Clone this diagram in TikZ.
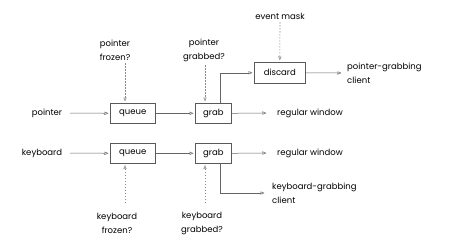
\documentclass[tikz,border=0pt]{standalone}
\usepackage{fontspec}
\setmainfont{Poppins}
\usetikzlibrary{arrows.meta}
\begin{document}
\begin{tikzpicture}[x=1pt,y=-1pt,
  font=\fontsize{8.5}{14}\selectfont,
  box/.style={draw=black!65,line width=0.6pt,minimum width=0pt,inner sep=0pt,anchor=north west},
  lab/.style={inner sep=0pt,align=center,text=black},
  conn/.style={draw=black!60,line width=0.5pt,-{Triangle[open,length=4pt,width=3.2pt]},shorten >=1.5pt},
  dconn/.style={draw=black!45,line width=0.6pt,dash pattern=on 1.5pt off 1.5pt,-{Triangle[open,length=4pt,width=3.2pt]},shorten >=1.5pt}]
\useasboundingbox (0,0) rectangle (450,244);
% boxes
\node[box,minimum width=45pt,minimum height=20pt] (q1) at (110,103) {queue};
\node[box,minimum width=36pt,minimum height=20pt] (g1) at (195,103) {grab};
\node[box,minimum width=51pt,minimum height=21pt] (d1) at (254,62) {discard};
\node[box,minimum width=45pt,minimum height=20pt] (q2) at (110,143) {queue};
\node[box,minimum width=36pt,minimum height=20pt] (g2) at (195,143) {grab};
% labels
\node[lab] (pt) at (47,113) {pointer};
\node[lab] (kb) at (42,153) {keyboard};
\node[lab] (pf) at (115,50) {pointer\\frozen?};
\node[lab] (pg) at (204,50) {pointer\\grabbed?};
\node[lab] (em) at (280,16) {event mask};
\node[lab,anchor=west,align=left] (pgc) at (347,73) {pointer-grabbing\\client};
\node[lab,anchor=west] (rw1) at (277,113) {regular window};
\node[lab,anchor=west] (rw2) at (277,153) {regular window};
\node[lab,anchor=west,align=left] (kgc) at (272,193) {keyboard-grabbing\\client};
\node[lab] (kf) at (117,223) {keyboard\\frozen?};
\node[lab] (kg) at (202,223) {keyboard\\grabbed?};
% coordinates
\coordinate (rw1e) at (268,113);
\coordinate (rw2e) at (268,153);
\coordinate (pgce) at (343,73);
\coordinate (kgce) at (266,193);
% connectors
\draw[conn] (70,113) -- (q1.west);
\draw[conn] (q1.east) -- (g1.west);
\draw[conn] (g1.east) -- (rw1e);
\draw[conn] (g1.north -| 220,0) |- (d1.west);
\draw[conn] (d1.east) -- (pgce);
\draw[conn] (70,153) -- (q2.west);
\draw[conn] (q2.east) -- (g2.west);
\draw[conn] (g2.east) -- (rw2e);
\draw[conn] (g2.south -| 220,0) |- (kgce);
\draw[dconn] (125,63) -- (q1.north -| 125,0);
\draw[dconn] (205,65) -- (g1.north -| 205,0);
\draw[dconn] (280,22) -- (d1.north);
\draw[dconn] (125,203) -- (q2.south -| 125,0);
\draw[dconn] (205,203) -- (g2.south -| 205,0);
\end{tikzpicture}
\end{document}
